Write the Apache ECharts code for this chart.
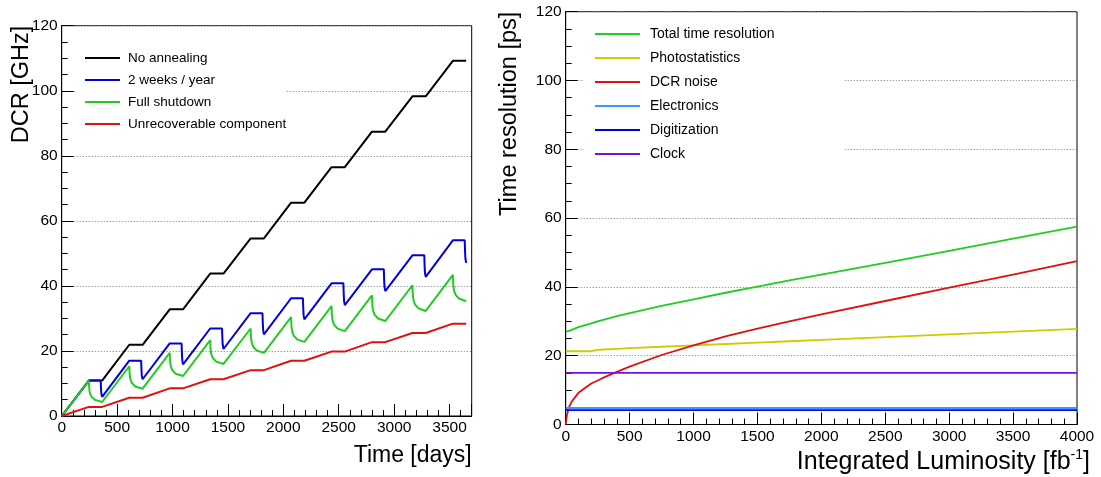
<!DOCTYPE html>
<html>
<head>
<meta charset="utf-8">
<title>DCR and time resolution</title>
<script src="https://cdn.jsdelivr.net/npm/echarts@6/dist/echarts.min.js"></script>
<style>
  html, body { margin: 0; padding: 0; background: #fff; }
  #main { width: 1101px; height: 477px; }
</style>
</head>
<body>
<div id="main"></div>
<script>
'use strict';

// ---- left panel: DCR vs time, [day, GHz] ----
var noAnnealing = [[0,0],[245,10.9],[365,10.9],[610,21.9],[730,21.9],[975,32.8],[1095,32.8],
    [1340,43.8],[1460,43.8],[1705,54.6],[1825,54.6],[2070,65.6],[2190,65.6],[2435,76.5],[2555,76.5],
    [2800,87.4],[2920,87.4],[3165,98.3],[3285,98.3],[3530,109.2],[3650,109.2]];

var twoWeeks = [[0,0],[245,10.9],[352,10.9],[355,8.4],[358,6.9],[365,5.9],
    [610,17.0],[717,17.0],[720,14.2],[723,12.4],[730,11.3],
    [975,22.3],[1082,22.3],[1085,19.1],[1088,17.2],[1095,15.9],
    [1340,26.9],[1447,26.9],[1450,23.8],[1453,21.9],[1460,20.6],
    [1705,31.6],[1812,31.6],[1815,28.4],[1818,26.4],[1825,25.1],
    [2070,36.2],[2177,36.2],[2180,33.0],[2183,31.0],[2190,29.7],
    [2435,40.8],[2542,40.8],[2545,37.5],[2548,35.4],[2555,34.1],
    [2800,45.1],[2907,45.1],[2910,41.8],[2913,39.7],[2920,38.4],
    [3165,49.4],[3272,49.4],[3275,46.1],[3278,44.1],[3285,42.8],
    [3530,54.0],[3637,54.0],[3640,50.6],[3643,48.5],[3650,47.1]];

var fullShutdown = [[0,0],
    [245,10.9],[247,9.25],[251,7.73],[257,6.81],[270,5.88],[300,4.96],[365,4.3],
    [610,15.3],[612,13.58],[616,11.99],[622,11.02],[635,10.06],[665,9.09],[730,8.4],
    [975,19.4],[977,17.63],[981,15.99],[987,14.98],[1000,14.0],[1030,13.01],[1095,12.3],
    [1340,23.3],[1342,21.48],[1346,19.8],[1352,18.77],[1365,17.75],[1395,16.73],[1460,16.0],
    [1705,26.9],[1707,25.03],[1711,23.3],[1717,22.25],[1730,21.2],[1760,20.15],[1825,19.4],
    [2070,30.4],[2072,28.5],[2076,26.75],[2082,25.69],[2095,24.62],[2125,23.56],[2190,22.8],
    [2435,33.8],[2437,31.88],[2441,30.1],[2447,29.03],[2460,27.95],[2490,26.87],[2555,26.1],
    [2800,37.1],[2802,35.13],[2806,33.31],[2812,32.2],[2825,31.1],[2855,29.99],[2920,29.2],
    [3165,40.2],[3167,38.23],[3171,36.41],[3177,35.3],[3190,34.2],[3220,33.09],[3285,32.3],
    [3530,43.4],[3532,41.38],[3536,39.51],[3542,38.38],[3555,37.24],[3585,36.11],[3650,35.3]];

var unrecoverable = [[0,0],[245,2.8],[365,2.8],[610,5.6],[730,5.6],[975,8.5],[1095,8.5],
    [1340,11.3],[1460,11.3],[1705,14.1],[1825,14.1],[2070,17.0],[2190,17.0],[2435,19.8],[2555,19.8],
    [2800,22.7],[2920,22.7],[3165,25.5],[3285,25.5],[3530,28.4],[3650,28.4]];

// ---- right panel: time resolution vs integrated luminosity ----
var lumi = [0, 10, 30, 50, 100, 200, 250, 300, 400, 500, 750, 1000, 1250, 1500, 1750, 2000, 2500, 3000, 3500, 4000];
var totalRes = [26.9, 27.0, 27.3, 27.6, 28.3, 29.4, 30.0, 30.5, 31.5, 32.4, 34.5, 36.4, 38.3, 40.1, 41.9, 43.6, 47.0, 50.5, 54.0, 57.5];
var photoStat = [21.3, 21.3, 21.3, 21.3, 21.3, 21.3, 21.7, 21.8, 22.0, 22.2, 22.6, 23.0, 23.4, 23.8, 24.2, 24.6, 25.4, 26.2, 27.0, 27.8];
var dcrNoise = [0, 2.8, 5.4, 6.8, 9.2, 11.9, 12.8, 13.7, 15.3, 16.8, 20.2, 23.0, 25.6, 27.9, 30.0, 32.0, 35.9, 39.8, 43.6, 47.5];
var flatLumi = [0, 4000];
var electronics = [4.8, 4.8];
var digitization = [4.2, 4.2];
var clock = [15.0, 15.0];

var FONT = '"Liberation Sans", Arial, Helvetica, sans-serif';

function zip(xs, ys) {
    return xs.map(function(x, i) { return [x, ys[i]]; });
}

function plain(v) { return String(v); }

function xAxisOf(grid, max, name, nameGap, nameStyle) {
    return {
        gridIndex: grid, type: 'value', min: 0, max: max, interval: 500,
        axisLine: { show: true, onZero: false, lineStyle: { color: '#000', width: 1 } },
        axisTick: { inside: true, length: 12, lineStyle: { color: '#000' } },
        minorTick: { show: true, splitNumber: 5, length: 6, lineStyle: { color: '#000' } },
        axisLabel: { color: '#000', fontSize: 15.5, fontFamily: FONT, margin: 4, formatter: plain },
        splitLine: { show: false },
        name: name, nameLocation: 'end', nameGap: nameGap, nameMoveOverlap: false,
        nameTextStyle: nameStyle
    };
}

function yAxisOf(grid, name, pad) {
    return {
        gridIndex: grid, type: 'value', min: 0, max: 120, interval: 20,
        axisLine: { show: true, onZero: false, lineStyle: { color: '#000', width: 1 } },
        axisTick: { inside: true, length: 12, lineStyle: { color: '#000' } },
        minorTick: { show: true, splitNumber: 4, length: 6, lineStyle: { color: '#000' } },
        axisLabel: { color: '#000', fontSize: 15.5, fontFamily: FONT, margin: 4, formatter: plain },
        splitLine: { show: true, lineStyle: { color: '#777', type: [1, 2], width: 1 } },
        name: name, nameLocation: 'end', nameGap: 0, nameRotate: 90, nameMoveOverlap: false,
        nameTextStyle: { color: '#000', fontSize: 23.5, fontFamily: FONT,
            align: 'right', verticalAlign: 'bottom', padding: [0, 0, pad, 0] }
    };
}

function line(name, data, color, xi, width) {
    return {
        name: name, type: 'line', data: data, xAxisIndex: xi, yAxisIndex: xi,
        symbol: 'none', showSymbol: false, smooth: false, animation: false,
        lineStyle: { color: color, width: width }, itemStyle: { color: color }
    };
}

var myChart = echarts.init(document.getElementById('main'), null, { renderer: 'canvas' });

var option = {
    backgroundColor: '#fff',
    animation: false,
    grid: [
        { left: 61.7, top: 25.7, width: 410, height: 390.3, show: true, borderColor: '#000', borderWidth: 1, backgroundColor: 'transparent' },
        { left: 565.7, top: 11.7, width: 511.3, height: 412.8, show: true, borderColor: '#000', borderWidth: 1, backgroundColor: 'transparent' }
    ],
    legend: [
        {
            data: ['No annealing', '2 weeks / year', 'Full shutdown', 'Unrecoverable component'],
            orient: 'vertical', left: 76, top: 41, padding: [10, 0, 10, 9],
            icon: 'rect', itemWidth: 35, itemHeight: 2, itemGap: 8, backgroundColor: '#fff',
            textStyle: { fontSize: 13.5, fontFamily: FONT, color: '#000', lineHeight: 14, padding: [0, 0, 0, 3] }
        },
        {
            data: ['Total time resolution', 'Photostatistics', 'DCR noise', 'Electronics', 'Digitization', 'Clock'],
            orient: 'vertical', left: 584, top: 17, padding: [10, 70, 10, 11],
            icon: 'rect', itemWidth: 45, itemHeight: 2, itemGap: 10, backgroundColor: '#fff',
            textStyle: { fontSize: 14, fontFamily: FONT, color: '#000', lineHeight: 14, padding: [0, 0, 0, 5] }
        }
    ],
    xAxis: [
        xAxisOf(0, 3700, 'Time [days]', 0,
            { color: '#000', fontSize: 23, fontFamily: FONT, align: 'right', verticalAlign: 'top', padding: [28, 0, 0, 0] }),
        xAxisOf(1, 4000, 'Integrated Luminosity [fb{sup|-1}]', 13,
            { color: '#000', fontSize: 25, fontFamily: FONT, align: 'right', verticalAlign: 'top', padding: [24, 0, 0, 0],
              rich: { sup: { fontSize: 14, fontFamily: FONT, color: '#000', verticalAlign: 'top', lineHeight: 27 } } })
    ],
    yAxis: [
        yAxisOf(0, 'DCR [GHz]', 28),
        yAxisOf(1, 'Time resolution [ps]', 44)
    ],
    series: [
        line('No annealing', noAnnealing, '#000000', 0, 2),
        line('2 weeks / year', twoWeeks, '#0000dd', 0, 2),
        line('Full shutdown', fullShutdown, '#22cc22', 0, 2),
        line('Unrecoverable component', unrecoverable, '#dd1111', 0, 2),
        line('Total time resolution', zip(lumi, totalRes), '#22cc22', 1, 1.8),
        line('Photostatistics', zip(lumi, photoStat), '#cccc00', 1, 1.8),
        line('DCR noise', zip(lumi, dcrNoise), '#dd1111', 1, 1.8),
        line('Electronics', zip(flatLumi, electronics), '#3399ff', 1, 1.8),
        line('Digitization', zip(flatLumi, digitization), '#0000dd', 1, 1.8),
        line('Clock', zip(flatLumi, clock), '#7711dd', 1, 1.8)
    ]
};

myChart.setOption(option);
</script>
</body>
</html>
